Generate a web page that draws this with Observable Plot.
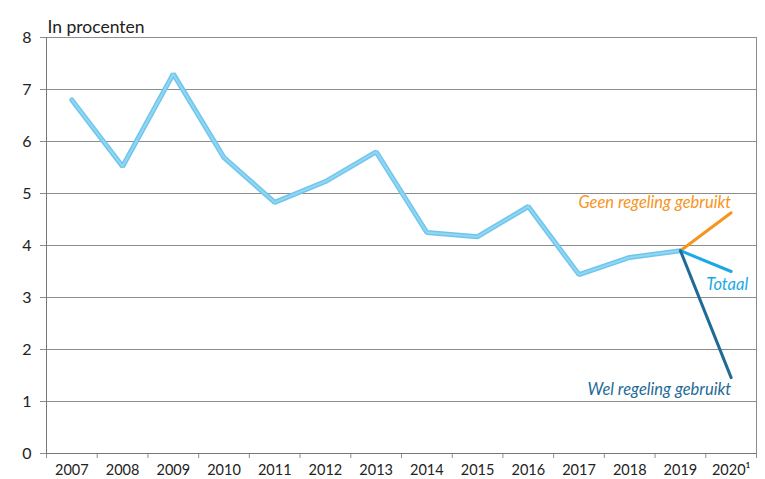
<!DOCTYPE html>
<html><head><meta charset="utf-8">
<script src="https://cdn.jsdelivr.net/npm/d3@7"></script>
<script src="https://cdn.jsdelivr.net/npm/@observablehq/plot@0.6"></script>
<style>body{margin:0;background:#fff;} svg{font-family:Lato,"Open Sans",sans-serif;}</style>
</head><body><div id="chart"></div>
<script>
const years = [2007,2008,2009,2010,2011,2012,2013,2014,2015,2016,2017,2018,2019];
const totaal = [6.8,5.52,7.3,5.69,4.83,5.23,5.8,4.25,4.17,4.75,3.44,3.77,3.9];
const branchYears = [2019, 2020];
const geen = [3.9, 4.63];
const totaal2020 = [3.9, 3.5];
const wel = [3.9, 1.46];
const tickYears = [2007,2008,2009,2010,2011,2012,2013,2014,2015,2016,2017,2018,2019,2020];
const yTicks = [0,1,2,3,4,5,6,7,8];
const labels = ["Geen regeling gebruikt","Totaal","Wel regeling gebruikt"];
const title = "In procenten";

const main = years.map((y,i)=>({x:y, v:totaal[i]}));
const seg = arr => branchYears.map((y,i)=>({x:y, v:arr[i]}));
const bounds = d3.range(2006.5, 2021, 1);

const chart = Plot.plot({
  width: 765, height: 479,
  marginLeft: 46, marginRight: 9, marginTop: 37, marginBottom: 26,
  x: {domain: [2006.5, 2020.5]},
  y: {domain: [0, 8]},
  marks: [
    Plot.gridY(yTicks.filter(d=>d>0), {stroke:"#8c8c8c", strokeOpacity:1, strokeWidth:1}),
    Plot.axisY(yTicks, {tickSize:6, tickPadding:9, fontSize:16, stroke:"#8c8c8c", fill:"#222", label:null, tickFormat:d=>String(d)}),
    Plot.axisX(bounds, {tickSize:5, tickFormat:()=>"", stroke:"#8c8c8c", label:null}),
    Plot.axisX(tickYears, {tickSize:0, tickPadding:11, fontSize:14.5, fill:"#222", label:null, tickFormat: d => d===2020 ? "2020\u00b9" : String(d)}),
    Plot.ruleX([2006.5], {stroke:"#777"}),
    Plot.ruleX([2020.5], {stroke:"#8c8c8c"}),
    Plot.ruleY([0], {stroke:"#777"}),
    Plot.line(main, {x:"x", y:"v", stroke:"#6fc6ec", strokeWidth:5, strokeLinejoin:"miter"}),
    Plot.line(main, {x:"x", y:"v", stroke:"#92d6f3", strokeWidth:2, strokeLinejoin:"miter"}),
    Plot.line(seg(geen), {x:"x", y:"v", stroke:"#f7941d", strokeWidth:3}),
    Plot.line(seg(totaal2020), {x:"x", y:"v", stroke:"#1aa9e4", strokeWidth:3}),
    Plot.line(seg(wel), {x:"x", y:"v", stroke:"#1f6b97", strokeWidth:3}),
    Plot.text([labels[0]], {x:2020, y:4.63, dx:0, dy:-10, text:d=>d, textAnchor:"end", fill:"#f7941d", fontSize:16.5, fontStyle:"italic"}),
    Plot.text([labels[1]], {x:2020, y:3.5, dx:17, dy:13, text:d=>d, textAnchor:"end", fill:"#1aa9e4", fontSize:16.5, fontStyle:"italic"}),
    Plot.text([labels[2]], {x:2020, y:1.46, dx:0, dy:12, text:d=>d, textAnchor:"end", fill:"#1f6b97", fontSize:16.5, fontStyle:"italic"}),
    Plot.text([title], {frameAnchor:"top-left", dx:1, dy:-17, text:d=>d, textAnchor:"start", fill:"#222", fontSize:17.5})
  ]
});
document.getElementById("chart").appendChild(chart);
</script></body></html>
